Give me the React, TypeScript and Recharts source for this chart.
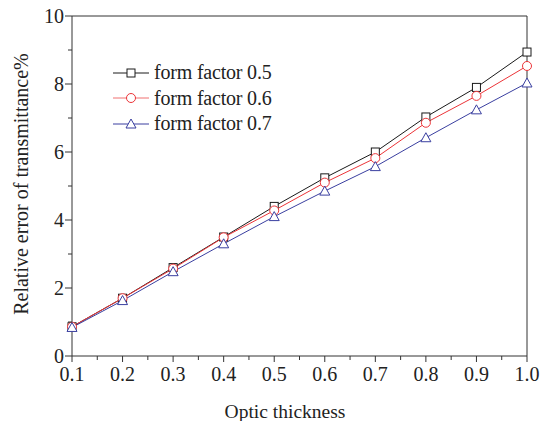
import React from "react";
import { LineChart, Line, XAxis, YAxis, ReferenceLine } from "recharts";

const thickness = [0.1, 0.2, 0.3, 0.4, 0.5, 0.6, 0.7, 0.8, 0.9, 1.0];
const ff05 = [0.86, 1.7, 2.6, 3.5, 4.4, 5.24, 6.0, 7.03, 7.9, 8.94];
const ff06 = [0.86, 1.7, 2.57, 3.49, 4.28, 5.1, 5.82, 6.86, 7.65, 8.53];
const ff07 = [0.84, 1.63, 2.48, 3.3, 4.1, 4.85, 5.57, 6.42, 7.24, 8.03];
const xTicks = [0.1, 0.15, 0.2, 0.25, 0.3, 0.35, 0.4, 0.45, 0.5, 0.55, 0.6, 0.65, 0.7, 0.75, 0.8, 0.85, 0.9, 0.95, 1.0];
const yTicks = [0, 1, 2, 3, 4, 5, 6, 7, 8, 9, 10];
const seriesNames = ["form factor 0.5", "form factor 0.6", "form factor 0.7"];

const data = thickness.map((t, i) => ({ t, a: ff05[i], b: ff06[i], c: ff07[i] }));

const FONT = '"Liberation Serif", "Times New Roman", serif';
const AXIS = "#333";
const COLORS = ["#1a1a1a", "#ec3438", "#3a3fa0"];
const SHAPES = ["square", "circle", "triangle"];

function Marker({ cx, cy, shape, color }: { cx: number; cy: number; shape: string; color: string }) {
  if (shape === "square")
    return <rect x={cx - 4} y={cy - 4} width={8} height={8} fill="#fff" stroke={color} strokeWidth={1} />;
  if (shape === "circle") return <circle cx={cx} cy={cy} r={4.5} fill="#fff" stroke={color} strokeWidth={1} />;
  return (
    <polygon
      points={`${cx},${cy - 5} ${cx + 5},${cy + 4} ${cx - 5},${cy + 4}`}
      fill="#fff"
      stroke={color}
      strokeWidth={1}
    />
  );
}

function XTick(props: any) {
  const { x, y, payload, index } = props;
  const major = index % 2 === 0;
  const ay = y - 10;
  return (
    <g>
      <line x1={x} x2={x} y1={ay} y2={ay + (major ? 6 : 4)} stroke={AXIS} />
      {major && (
        <text x={x} y={ay + 25} textAnchor="middle" fontFamily={FONT} fontSize={20} fill="#222">
          {payload.value.toFixed(1)}
        </text>
      )}
    </g>
  );
}

function YTick(props: any) {
  const { x, y, payload } = props;
  const major = payload.value % 2 === 0;
  const ax = x + 10;
  return (
    <g>
      <line x1={ax} x2={ax - (major ? 7 : 4)} y1={y} y2={y} stroke={AXIS} />
      {major && (
        <text x={ax - 8} y={y + 7} textAnchor="end" fontFamily={FONT} fontSize={20} fill="#222">
          {payload.value}
        </text>
      )}
    </g>
  );
}

function LegendBox() {
  return (
    <div
      style={{
        position: "absolute",
        left: 111,
        top: 60,
        fontFamily: FONT,
        fontSize: 20,
        color: "#222",
        letterSpacing: -0.2,
      }}
    >
      {seriesNames.map((n, i) => (
        <div key={n} style={{ display: "flex", alignItems: "center", height: 25.5 }}>
          <svg width={40} height={14} style={{ marginRight: 3 }}>
            <line x1={2} x2={38} y1={7} y2={7} stroke={i === 1 ? "#f07070" : COLORS[i]} />
            <Marker cx={20} cy={7} shape={SHAPES[i]} color={COLORS[i]} />
          </svg>
          <span>{n}</span>
        </div>
      ))}
    </div>
  );
}

export default function App() {
  const keys = ["a", "b", "c"];
  return (
    <div style={{ position: "absolute", left: 0, top: 0, width: 540, height: 421, background: "#fff" }}>
      <LineChart width={540} height={421} data={data} margin={{ top: 16, right: 13, bottom: 0, left: 0 }}>
        <XAxis
          dataKey="t"
          type="number"
          domain={[0.1, 1.0]}
          ticks={xTicks}
          interval={0}
          tickSize={6}
          tickMargin={4}
          tickLine={false}
          tick={<XTick />}
          stroke={AXIS}
          height={65}
          label={{
            content: () => (
              <text x={285} y={418} textAnchor="middle" fontFamily={FONT} fontSize={19.5} fill="#222">
                Optic thickness
              </text>
            ),
          }}
        />
        <YAxis
          type="number"
          domain={[0, 10]}
          ticks={yTicks}
          interval={0}
          tickSize={7}
          tickMargin={3}
          tickLine={false}
          tick={<YTick />}
          stroke={AXIS}
          width={72}
          label={{
            content: () => (
              <text
                x={28}
                y={184}
                transform="rotate(-90 28 184)"
                textAnchor="middle"
                fontFamily={FONT}
                fontSize={20}
                fill="#222"
              >
                Relative error of transmittance%
              </text>
            ),
          }}
        />
        <ReferenceLine y={10} stroke={AXIS} />
        <ReferenceLine x={1.0} stroke={AXIS} />
        {keys.map((k, i) => (
          <Line
            key={k}
            dataKey={k}
            name={seriesNames[i]}
            type="linear"
            stroke={COLORS[i]}
            strokeWidth={1}
            isAnimationActive={false}
            dot={(p: any) => <Marker key={`${k}-${p.index}`} cx={p.cx} cy={p.cy} shape={SHAPES[i]} color={COLORS[i]} />}
            activeDot={false}
          />
        ))}
      </LineChart>
      <LegendBox />
    </div>
  );
}
